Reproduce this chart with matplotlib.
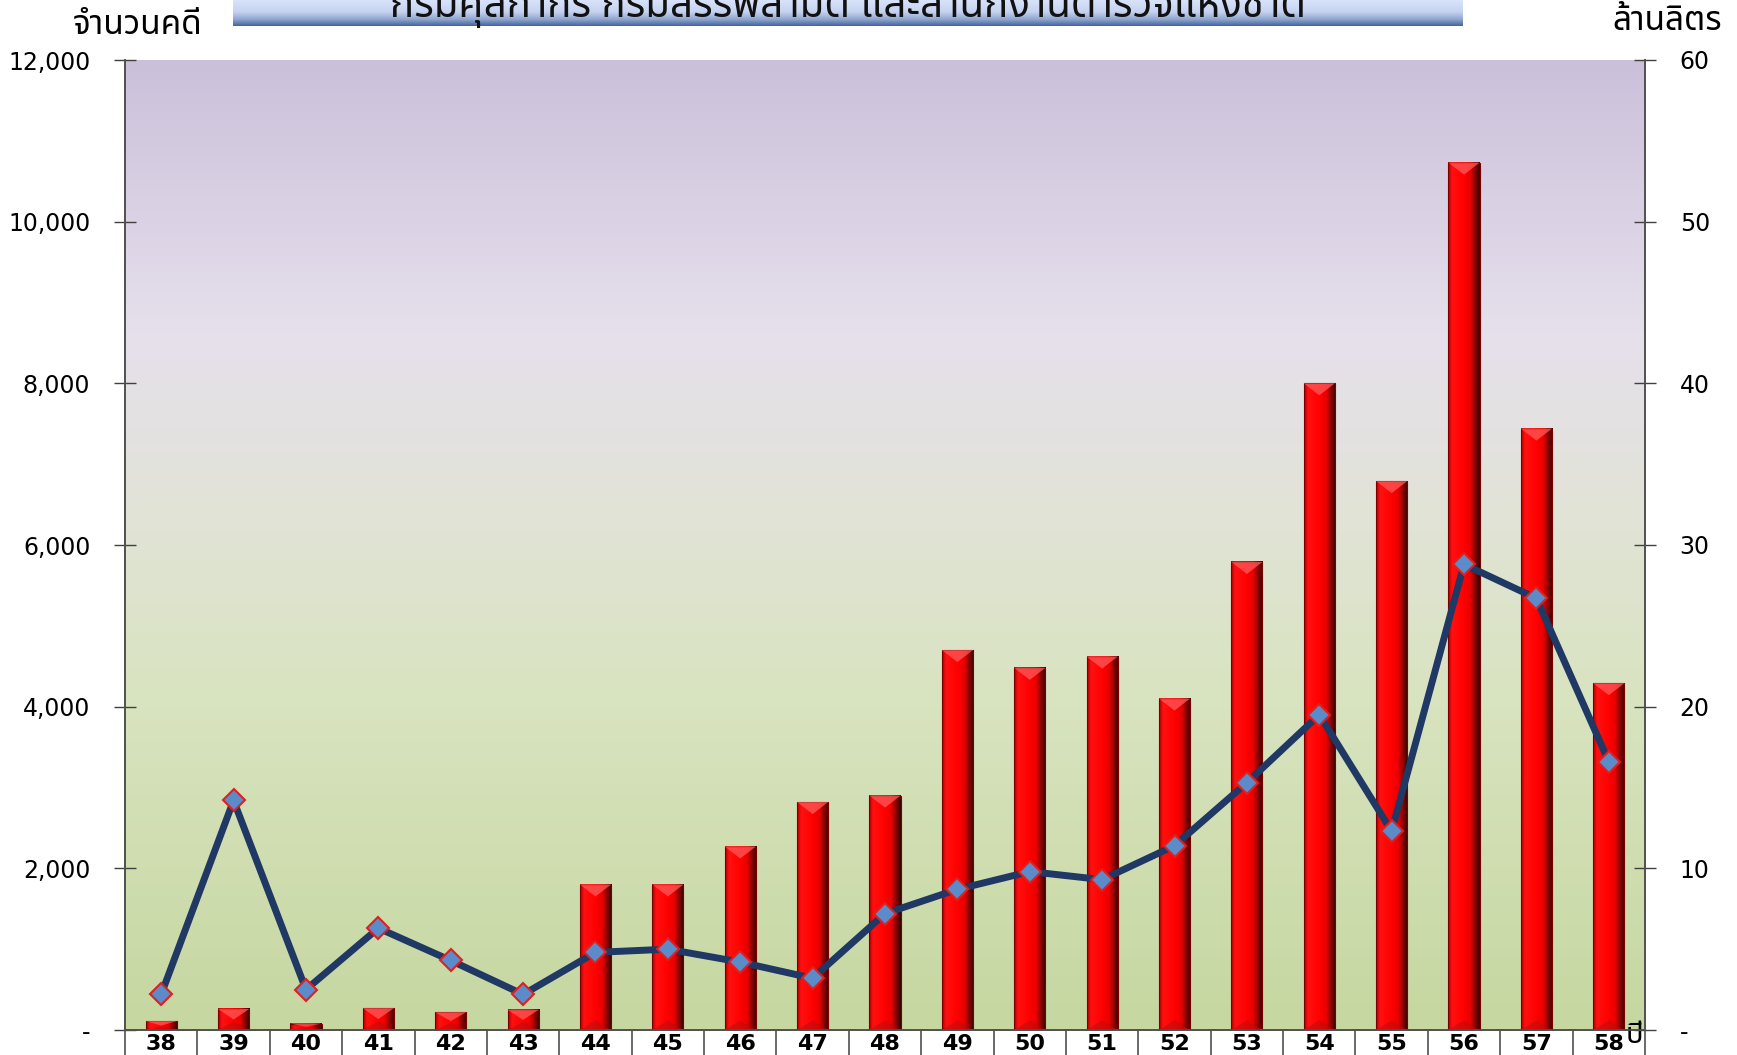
import matplotlib
matplotlib.use("Agg")
import matplotlib.pyplot as plt
import numpy as np
from matplotlib import font_manager
from matplotlib.ft2font import FT2Font
from matplotlib.colors import LinearSegmentedColormap
from matplotlib.patches import Polygon
from matplotlib.ticker import FuncFormatter

# ข้อมูล
years = ["38", "39", "40", "41", "42", "43", "44", "45", "46", "47", "48",
         "49", "50", "51", "52", "53", "54", "55", "56", "57", "58"]
cases = [110, 260, 80, 270, 220, 250, 1800, 1800, 2270, 2820, 2900,
         4700, 4480, 4620, 4100, 5790, 8000, 6790, 10730, 7440, 4290]
litres = [2.2, 14.2, 2.5, 6.3, 4.3, 2.2, 4.8, 5.0, 4.2, 3.2, 7.2,
          8.7, 9.8, 9.3, 11.4, 15.3, 19.5, 12.3, 28.8, 26.7, 16.6]

title = "กรมศุลกากร กรมสรรพสามิต และสำนักงานตำรวจแห่งชาติ"
ylabel_left = "จำนวนคดี"
ylabel_right = "ล้านลิตร"
xlabel = "ปี"


def find_thai_font():
    names = []
    for f in font_manager.fontManager.ttflist:
        try:
            if 0x0E01 in FT2Font(f.fname).get_charmap():
                names.append(f.name)
        except Exception:
            pass
    for pref in ["Tahoma", "Noto Sans Thai", "Noto Sans Thai UI", "Loma", "Garuda",
                 "Sarabun", "Kinnari", "Norasi"]:
        if pref in names:
            return pref
    return names[0] if names else "DejaVu Sans"


thai = find_thai_font()
plt.rcParams['font.family'] = [thai, 'DejaVu Sans']

W, H = 1737, 1055
fig = plt.figure(figsize=(W / 100, H / 100), dpi=100)
L, R, T, B = 125, 1645, 60, 1030
ax = fig.add_axes([L / W, 1 - B / H, (R - L) / W, (B - T) / H])

# พื้นหลังไล่สี
bg = LinearSegmentedColormap.from_list("bg", [
    (0.0, "#c6d7a0"), (0.35, "#d9e4c1"), (0.55, "#e2e3d9"),
    (0.72, "#e6e0ec"), (1.0, "#cbc0da")])
ax.imshow(np.linspace(0, 1, 256).reshape(-1, 1), cmap=bg, origin="lower",
          extent=[0, 1, 0, 1], transform=ax.transAxes, aspect="auto", zorder=0)

x = np.arange(len(years))
ymax = 12000
ax.set_xlim(-0.5, len(years) - 0.5)
ax.set_ylim(0, ymax)

# แท่งกราฟแบบมีมิติ
bar_w = 0.43
barmap = LinearSegmentedColormap.from_list("bar", [
    (0.0, "#b00000"), (0.12, "#ff1010"), (0.5, "#ff0000"),
    (0.7, "#e80000"), (0.86, "#880000"), (1.0, "#300000")])
grad = np.linspace(0, 1, 64).reshape(1, -1)
bev = ymax * 12 / (B - T)
for xi, v in zip(x, cases):
    x0, x1 = xi - bar_w / 2, xi + bar_w / 2
    ax.imshow(grad, cmap=barmap, extent=[x0, x1, 0, v], aspect="auto", zorder=2)
    ax.bar(xi, v, width=bar_w, facecolor="none", edgecolor="#7a0000",
           linewidth=0.8, zorder=3)
    h = min(bev, v / 2)
    ax.add_patch(Polygon([(x0, v), (x1, v), (xi, v - h)], closed=True,
                         facecolor="#ff5a5a", edgecolor="none", alpha=0.75, zorder=3))
    ax.add_patch(Polygon([(x0, 0), (x1, 0), (xi, h * 0.8)], closed=True,
                         facecolor="#b01010", edgecolor="none", alpha=0.5, zorder=3))

# เส้นปริมาณ
ax2 = ax.twinx()
ax2.set_ylim(0, 60)
ax2.plot(x, litres, color="#1f3864", linewidth=5, zorder=5,
         marker="D", markersize=11, markerfacecolor="#5b8bc8",
         markeredgecolor="#e02020", markeredgewidth=1.5)

fmt_left = FuncFormatter(lambda v, p: "-" if v == 0 else f"{int(v):,}")
fmt_right = FuncFormatter(lambda v, p: "-" if v == 0 else f"{int(v)}")
ax.set_yticks(np.arange(0, 12001, 2000))
ax.yaxis.set_major_formatter(fmt_left)
ax2.set_yticks(np.arange(0, 61, 10))
ax2.yaxis.set_major_formatter(fmt_right)

ax.tick_params(axis="y", direction="inout", length=16, width=1, color="#404040",
               labelsize=17, pad=17)
ax2.tick_params(axis="y", direction="inout", length=16, width=1, color="#404040",
                labelsize=17, pad=17)
for t in ax.get_yticklabels() + ax2.get_yticklabels():
    t.set_fontfamily("DejaVu Sans")

ax.set_xticks(x)
ax.set_xticklabels(years, fontsize=16, fontweight="bold", fontfamily="DejaVu Sans")
ax.tick_params(axis="x", length=0, pad=3)

for a in (ax, ax2):
    a.spines["top"].set_visible(False)
    for s in ("left", "right", "bottom"):
        a.spines[s].set_color("#505050")
        a.spines[s].set_linewidth(1.2)

# เส้นแบ่งช่องใต้แกน
ax.vlines(np.arange(-0.5, len(years), 1), -0.06 * ymax, 0, colors="#505050",
          linewidth=1.2, clip_on=False, zorder=1)

ax.text(len(years) - 0.52, -0.006 * ymax, xlabel, fontsize=21, ha="right", va="center",
        fontfamily=thai)

fig.text(138 / W, 1 - 25 / H, ylabel_left, fontsize=24, ha="center", va="center")
fig.text(1667 / W, 1 - 21 / H, ylabel_right, fontsize=24, ha="center", va="center")

# แถบหัวเรื่อง
tax = fig.add_axes([233 / W, 1 - 26 / H, 1230 / W, 26 / H])
tmap = LinearSegmentedColormap.from_list("tb", [
    (0.0, "#44659a"), (0.25, "#8ea5cf"), (0.55, "#c6d3f0"), (1.0, "#d8e2fa")])
tax.imshow(np.linspace(0, 1, 64).reshape(-1, 1), cmap=tmap, origin="lower",
           extent=[0, 1, 0, 1], aspect="auto")
tax.axis("off")
fig.text(848 / W, 1 - 17 / H, title, fontsize=29, fontweight="bold",
         ha="center", va="baseline", color="#111111")

fig.savefig("out.png", dpi=100)
